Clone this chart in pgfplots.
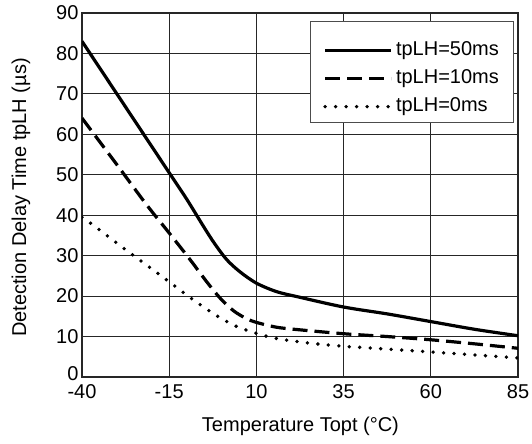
\documentclass[border=0pt]{standalone}
\usepackage{fontspec}
\setmainfont{Liberation Sans}
\usepackage{pgfplots}
\pgfplotsset{compat=1.18}
\newcommand{\bigf}{\fontsize{20}{23}\selectfont}
\begin{document}
\begin{tikzpicture}
\begin{axis}[
  scale only axis,
  width=436pt, height=364pt,
  xmin=-40, xmax=85, ymin=0, ymax=90,
  xtick={-40,-15,10,35,60,85},
  ytick={10,20,30,40,50,60,70,80,90},
  extra y ticks={0},
  extra y tick style={yticklabel style={yshift=3.5pt}},
  major tick length=0pt,
  grid=major,
  grid style={line width=1.2pt, black!85},
  axis line style={line width=1.2pt, black!85},
  /pgf/number format/assume math mode=true,
  tick label style={font=\bigf},
  xticklabel style={yshift=-4pt},
  label style={font=\bigf},
  xlabel={Temperature Topt (\textdegree C)},
  ylabel={Detection Delay Time tpLH (µs)},
  xlabel style={at={(axis description cs:0.501,-0.1511)}, anchor=base},
  ylabel style={at={(axis description cs:-0.1284,0.493)}, anchor=base},
  legend cell align=left,
  legend style={at={(axis description cs:0.5528,0.923)}, anchor=north west,
    draw=none, fill=none, font=\bigf,
    inner sep=0pt, row sep=9pt,
    nodes={inner xsep=3pt, inner ysep=0pt, text height=14pt, text depth=5pt}},
  legend image code/.code={\draw[#1] (0pt,0pt) -- (66pt,0pt);},
]
\addplot[black, line width=3.2pt, smooth, tension=0.5] coordinates {
(-40,83) (-30,70) (-20,57) (-15,50.5) (-10,44) (-5,37) (-2,33) (1.5,29)
(5.3,26) (10,23.2) (15.8,21.1) (22,19.8) (35,17.3) (47.5,15.6) (60,13.7)
(72.5,11.8) (85,10.2)};
\addlegendentry{tpLH=50ms}
\addplot[black, line width=3.2pt, dash pattern=on 15pt off 7pt, smooth, tension=0.5] coordinates {
(-40,64) (-30,52.5) (-21.5,42.6) (-15,35.6) (-9,29) (-4.3,23.6) (-0.4,19.5)
(3.4,16.4) (7,14.5) (10,13.5) (15.8,12.3) (22,11.7) (35,10.7) (47.5,10.0)
(60,9.2) (72.5,8.2) (85,7.1)};
\addlegendentry{tpLH=10ms}
\addplot[black, line width=3.8pt, line cap=round, dash pattern=on 0pt off 10.5pt, smooth, tension=0.5] coordinates {
(-40,39.5) (-37.5,38) (-27.7,31.6) (-17.9,25.4) (-8.3,19.2) (-0.9,14.9)
(4.3,12.5) (10,10.8) (15.3,9.6) (25,8.4) (35,7.6) (47.5,6.9) (58,6.3)
(70,5.6) (82,4.9) (85,4.7)};
\addlegendentry{tpLH=0ms}
\draw[draw=black!70, line width=0.8pt, fill=white]
  (axis description cs:0.523,0.976) rectangle (axis description cs:0.9885,0.7005);
\end{axis}
\pgfresetboundingbox
\useasboundingbox ([shift={(-82pt,-67pt)}]current axis.south west) rectangle ([shift={(14pt,13pt)}]current axis.north east);
\end{tikzpicture}
\end{document}
